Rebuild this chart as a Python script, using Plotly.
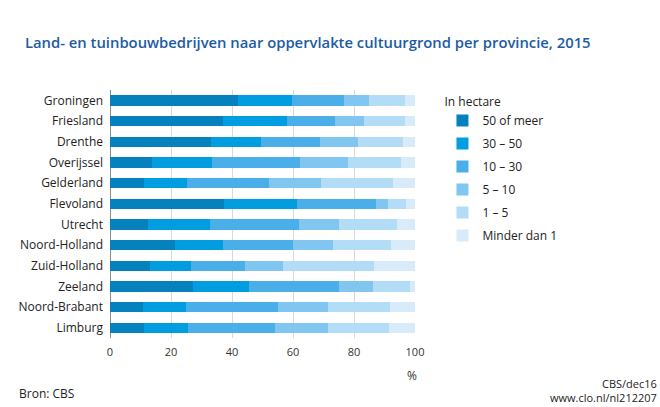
import plotly.graph_objects as go

provinces = ["Groningen", "Friesland", "Drenthe", "Overijssel", "Gelderland", "Flevoland",
             "Utrecht", "Noord-Holland", "Zuid-Holland", "Zeeland", "Noord-Brabant", "Limburg"]
series_names = ["50 of meer", "30 – 50", "10 – 30", "5 – 10", "1 – 5", "Minder dan 1"]
s50plus = [42.1, 36.9, 33.0, 13.7, 11.3, 37.4, 12.5, 21.2, 13.1, 27.1, 10.7, 11.0]
s30_50 = [17.6, 21.2, 16.6, 19.9, 14.1, 24.0, 20.3, 15.7, 13.5, 18.6, 14.1, 14.5]
s10_30 = [17.0, 15.7, 19.4, 28.6, 26.6, 25.8, 29.3, 23.0, 17.8, 29.4, 30.2, 28.6]
s5_10 = [8.3, 9.4, 12.3, 15.8, 17.2, 3.9, 13.1, 13.1, 12.2, 11.0, 16.5, 17.4]
s1_5 = [11.8, 13.6, 14.9, 17.5, 23.5, 5.8, 18.8, 19.0, 30.0, 12.3, 20.2, 19.9]
s_lt1 = [3.2, 3.2, 3.8, 4.5, 7.3, 3.1, 6.0, 8.0, 13.4, 1.6, 8.3, 8.6]
series_values = [s50plus, s30_50, s10_30, s5_10, s1_5, s_lt1]
colors = ["#0581bd", "#009ee0", "#4aafe8", "#80c6f0", "#b3dcf6", "#d8ebfa"]
x_ticks = [0, 20, 40, 60, 80, 100]

FONT = "Open Sans"
fig = go.Figure()
for i, (name, vals, col) in enumerate(zip(series_names, series_values, colors)):
    fig.add_trace(go.Bar(
        y=provinces, x=vals, name=name, orientation="h",
        marker=dict(color=col, line=dict(width=0)),
        width=0.5, legendgroup=str(i),
    ))

fig.update_layout(
    barmode="stack",
    width=660, height=407,
    margin=dict(l=110, r=245, t=90, b=69),
    paper_bgcolor="white", plot_bgcolor="white",
    font=dict(family=FONT, size=12, color="#222222"),
    showlegend=True,
    legend=dict(
        title=dict(text="In hectare", font=dict(size=12, color="#222222")),
        x=1.09, y=0.998, xanchor="left", yanchor="top",
        traceorder="grouped", tracegroupgap=4,
        font=dict(size=12, color="#222222"),
        itemwidth=30,
    ),
    xaxis=dict(
        range=[0, 100], tickvals=x_ticks, ticktext=[str(t) for t in x_ticks],
        showgrid=True, gridcolor="#d9d9d9", gridwidth=1,
        zeroline=True, zerolinecolor="#8c8c8c", zerolinewidth=1,
        tickfont=dict(size=11, color="#333333"), ticks="", ticklabelstandoff=6,
        fixedrange=True,
    ),
    yaxis=dict(
        autorange="reversed", showgrid=False, ticks="", ticklabelstandoff=6,
        tickfont=dict(size=12, color="#222222"),
    ),
    bargap=0.5,
)

fig.add_annotation(text="Land- en tuinbouwbedrijven naar oppervlakte cultuurgrond per provincie, 2015",
                   xref="paper", yref="paper", x=-0.285, y=1.195, xanchor="left", yanchor="middle",
                   showarrow=False, font=dict(size=14.8, color="#1c5ba5", family=FONT, weight=600))
fig.add_annotation(text="%", xref="x", yref="paper", x=99, y=-0.15, xanchor="center", yanchor="middle",
                   showarrow=False, font=dict(size=12, color="#333333"))
fig.add_annotation(text="Bron: CBS", xref="paper", yref="paper", x=-0.305, y=-0.225,
                   xanchor="left", yanchor="middle", showarrow=False, font=dict(size=12, color="#222222"))
fig.add_annotation(text="CBS/dec16<br>www.clo.nl/nl212207", xref="paper", yref="paper", x=1.8,
                   y=-0.21, xanchor="right", yanchor="middle", align="right", showarrow=False,
                   font=dict(size=11, color="#222222"))

fig.write_html("out.html")
